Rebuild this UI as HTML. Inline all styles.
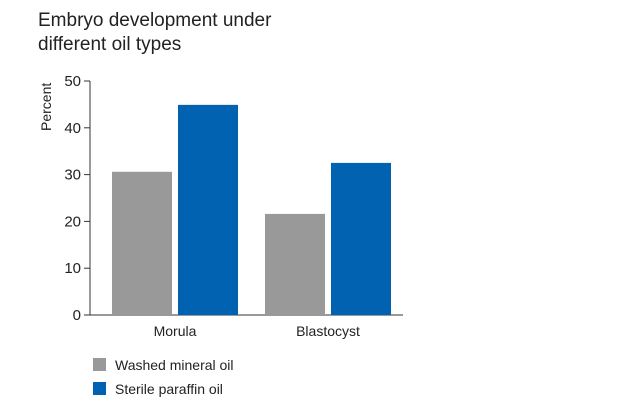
<!DOCTYPE html>
<html><head><meta charset="utf-8"><style>
body{margin:0;background:#fff;width:640px;height:400px;overflow:hidden;font-family:"Liberation Sans",sans-serif;}
</style></head><body>
<svg width="640" height="400" xmlns="http://www.w3.org/2000/svg">
<text x="38" y="26" font-size="19" fill="#222">Embryo development under</text>
<text x="38" y="50" font-size="19" fill="#222">different oil types</text>
<text transform="translate(51,131) rotate(-90)" font-size="14" fill="#222">Percent</text>
<g id="plot"></g>
<rect x="93" y="358" width="13" height="13" fill="#999"/>
<text x="115" y="370" font-size="14" fill="#222">Washed mineral oil</text>
<rect x="93" y="382" width="13" height="13" fill="#0062b0"/>
<text x="115" y="394" font-size="14" fill="#222">Sterile paraffin oil</text>
</svg>
<script>
const categories=["Morula","Blastocyst"];
const washed=[30.6,21.6];
const sterile=[44.9,32.5];
const yTicks=[0,10,20,30,40,50];
const NS="http://www.w3.org/2000/svg";
const g=document.getElementById('plot');
const y0=315,pxPer=4.68,axX=90,axEnd=403;
const y=v=>y0-v*pxPer;
const groupStart=[112,265];
function mk(t,a){const e=document.createElementNS(NS,t);for(const k in a)e.setAttribute(k,a[k]);g.appendChild(e);return e;}
let ax=mk('line',{x1:axX,y1:y(50),x2:axX,y2:y0,stroke:'#333','stroke-width':1});


let bx=mk('line',{x1:axX,y1:y0,x2:axEnd,y2:y0,stroke:'#333','stroke-width':1});


yTicks.forEach(t=>{
 let l=mk('line',{x1:axX-6,y1:y(t),x2:axX,y2:y(t),stroke:'#333','stroke-width':1});
 
 
 let tx=mk('text',{x:axX-9,y:y(t)+5,'font-size':15,'text-anchor':'end',fill:'#222'});
 tx.textContent=t;
 
 
});
categories.forEach((c,i)=>{
 const s=groupStart[i];
 let b1=mk('rect',{x:s,y:y(washed[i]),width:60,height:washed[i]*pxPer,fill:'#999'});
 
 
 let b2=mk('rect',{x:s+66,y:y(sterile[i]),width:60,height:sterile[i]*pxPer,fill:'#0062b0'});
 
 
 let tx=mk('text',{x:s+63,y:y0+21,'font-size':14,'text-anchor':'middle',fill:'#222'});
 tx.textContent=c;
 
 
});
</script>
</body></html>
